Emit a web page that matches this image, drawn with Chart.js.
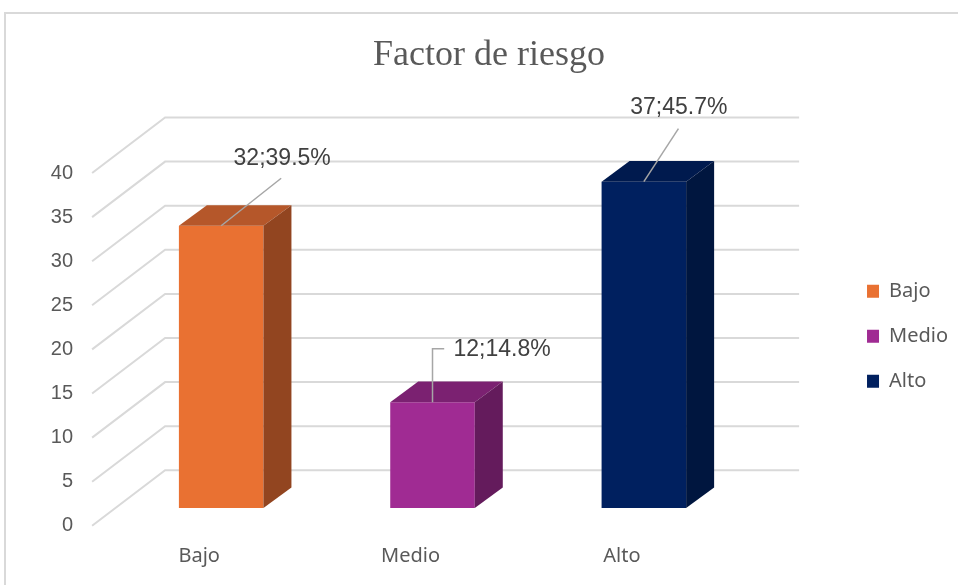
<!DOCTYPE html>
<html>
<head>
<meta charset="utf-8">
<script src="https://cdn.jsdelivr.net/npm/chart.js@4.4.1/dist/chart.umd.min.js"></script>
<style>
  html, body { margin: 0; padding: 0; background: #fff; }
  #wrap { position: relative; width: 958px; height: 585px; }
</style>
</head>
<body>
<div id="wrap"><canvas id="riskChart"></canvas></div>
<script>
// datos
const categories = ['Bajo', 'Medio', 'Alto'];
const counts = [32, 12, 37];
const percents = [39.5, 14.8, 45.7];
const yTicks = [0, 5, 10, 15, 20, 25, 30, 35, 40];

// colores de cada barra (frente, tapa, lateral)
const frontColors = ['#E97132', '#A02B93', '#00205F'];
const topColors = ['#B5572A', '#7B2171', '#001A4E'];
const sideColors = ['#924520', '#641B5C', '#00163F'];

// profundidad del "3D" relativa al plano frontal de las barras
const FRONT = { x: -23.4, y: 17.8 };
const BACK = { x: 49.6, y: -37.7 };
const DEPTH = { x: 28, y: -20.6 };

// posicion de etiquetas respecto al centro superior de cada barra
const leaderLayout = [
    { end: [60, -47.5], text: [61, -67.5], align: 'center' },
    { elbow: [0, -53.4], end: [11.7, -53.4], text: [21, -53], align: 'left' },
    { end: [34.6, -53], text: [35, -73.6], align: 'center' }
];

const datasets = categories.map((cat, i) => ({
    label: cat,
    data: counts.map((v, j) => (j === i ? v : null)),
    backgroundColor: frontColors[i],
    borderWidth: 0,
    barPercentage: 0.4,
    categoryPercentage: 1,
    grouped: false
}));

const box3d = {
    id: 'box3d',
    beforeDraw(chart) {
        const ctx = chart.ctx;
        ctx.save();
        ctx.strokeStyle = '#d9d9d9';
        ctx.lineWidth = 2;
        ctx.strokeRect(5, 13, 2000, 2000);
        ctx.restore();
    },
    beforeDatasetsDraw(chart) {
        const { ctx, chartArea: { left, right }, scales: { y } } = chart;
        ctx.save();
        ctx.strokeStyle = '#d9d9d9';
        ctx.lineWidth = 2;
        y.ticks.forEach(t => {
            const py = y.getPixelForValue(t.value);
            ctx.beginPath();
            ctx.moveTo(left + FRONT.x, py + FRONT.y);
            ctx.lineTo(left + BACK.x, py + BACK.y);
            ctx.lineTo(right + BACK.x, py + BACK.y);
            ctx.stroke();
        });
        ctx.restore();
    },
    afterDatasetsDraw(chart) {
        const ctx = chart.ctx;
        ctx.save();
        chart.data.datasets.forEach((ds, i) => {
            const meta = chart.getDatasetMeta(i);
            meta.data.forEach((bar, j) => {
                if (ds.data[j] == null) return;
                const { x, y, base, width } = bar.getProps(['x', 'y', 'base', 'width'], true);
                const l = x - width / 2, r = x + width / 2;
                // tapa
                ctx.fillStyle = topColors[i];
                ctx.beginPath();
                ctx.moveTo(l, y);
                ctx.lineTo(r, y);
                ctx.lineTo(r + DEPTH.x, y + DEPTH.y);
                ctx.lineTo(l + DEPTH.x, y + DEPTH.y);
                ctx.closePath();
                ctx.fill();
                // lateral
                ctx.fillStyle = sideColors[i];
                ctx.beginPath();
                ctx.moveTo(r, y);
                ctx.lineTo(r + DEPTH.x, y + DEPTH.y);
                ctx.lineTo(r + DEPTH.x, base + DEPTH.y);
                ctx.lineTo(r, base);
                ctx.closePath();
                ctx.fill();

                // linea guia + etiqueta
                const lay = leaderLayout[j];
                ctx.strokeStyle = '#a6a6a6';
                ctx.lineWidth = 1.5;
                ctx.beginPath();
                ctx.moveTo(x, y);
                if (lay.elbow) ctx.lineTo(x + lay.elbow[0], y + lay.elbow[1]);
                ctx.lineTo(x + lay.end[0], y + lay.end[1]);
                ctx.stroke();
                ctx.fillStyle = '#404040';
                ctx.font = '23px "Liberation Sans", Arial, sans-serif';
                ctx.textAlign = lay.align;
                ctx.textBaseline = 'middle';
                ctx.fillText(counts[j] + ';' + percents[j].toFixed(1) + '%', x + lay.text[0], y + lay.text[1]);
            });
        });
        ctx.restore();
    }
};

new Chart(document.getElementById('riskChart'), {
    type: 'bar',
    data: { labels: categories, datasets },
    options: {
        responsive: true,
        maintainAspectRatio: false,
        animation: false,
        layout: { padding: { left: 20, right: 0, top: 0, bottom: 0 } },
        plugins: {
            title: {
                display: true,
                text: 'Factor de riesgo',
                color: '#595959',
                font: { family: 'Liberation Serif', size: 36, weight: 'normal' },
                padding: { top: 34.4, bottom: 77.6 }
            },
            legend: {
                position: 'right',
                align: 'center',
                fullSize: false,
                title: { display: true, text: '', font: { size: 1 }, padding: { top: 4, bottom: 4 } },
                labels: {
                    boxWidth: 12,
                    boxHeight: 13,
                    padding: 25,
                    color: '#595959',
                    font: { family: 'Noto Sans', size: 20 }
                }
            },
            tooltip: { enabled: false }
        },
        scales: {
            x: {
                grid: { display: false, drawTicks: false },
                border: { display: false },
                ticks: {
                    color: '#595959',
                    font: { family: 'Noto Sans', size: 20 },
                    padding: 36,
                    labelOffset: -22,
                    maxRotation: 0
                },
                afterFit(s) { s.height = 77; }
            },
            y: {
                min: 0,
                max: 40,
                grid: { display: false, drawTicks: false },
                border: { display: false },
                ticks: {
                    color: '#595959',
                    font: { family: 'Liberation Sans', size: 20 },
                    padding: 42.5,
                    labelOffset: 17.8
                },
                afterBuildTicks(s) { s.ticks = yTicks.map(v => ({ value: v })); },
                afterFit(s) { s.width = 95.5; }
            },
            gap: {
                position: 'right',
                grid: { display: false, drawTicks: false },
                border: { display: false },
                ticks: { display: false },
                afterFit(s) { s.width = 92.5; }
            }
        }
    },
    plugins: [box3d]
});
</script>
</body>
</html>
